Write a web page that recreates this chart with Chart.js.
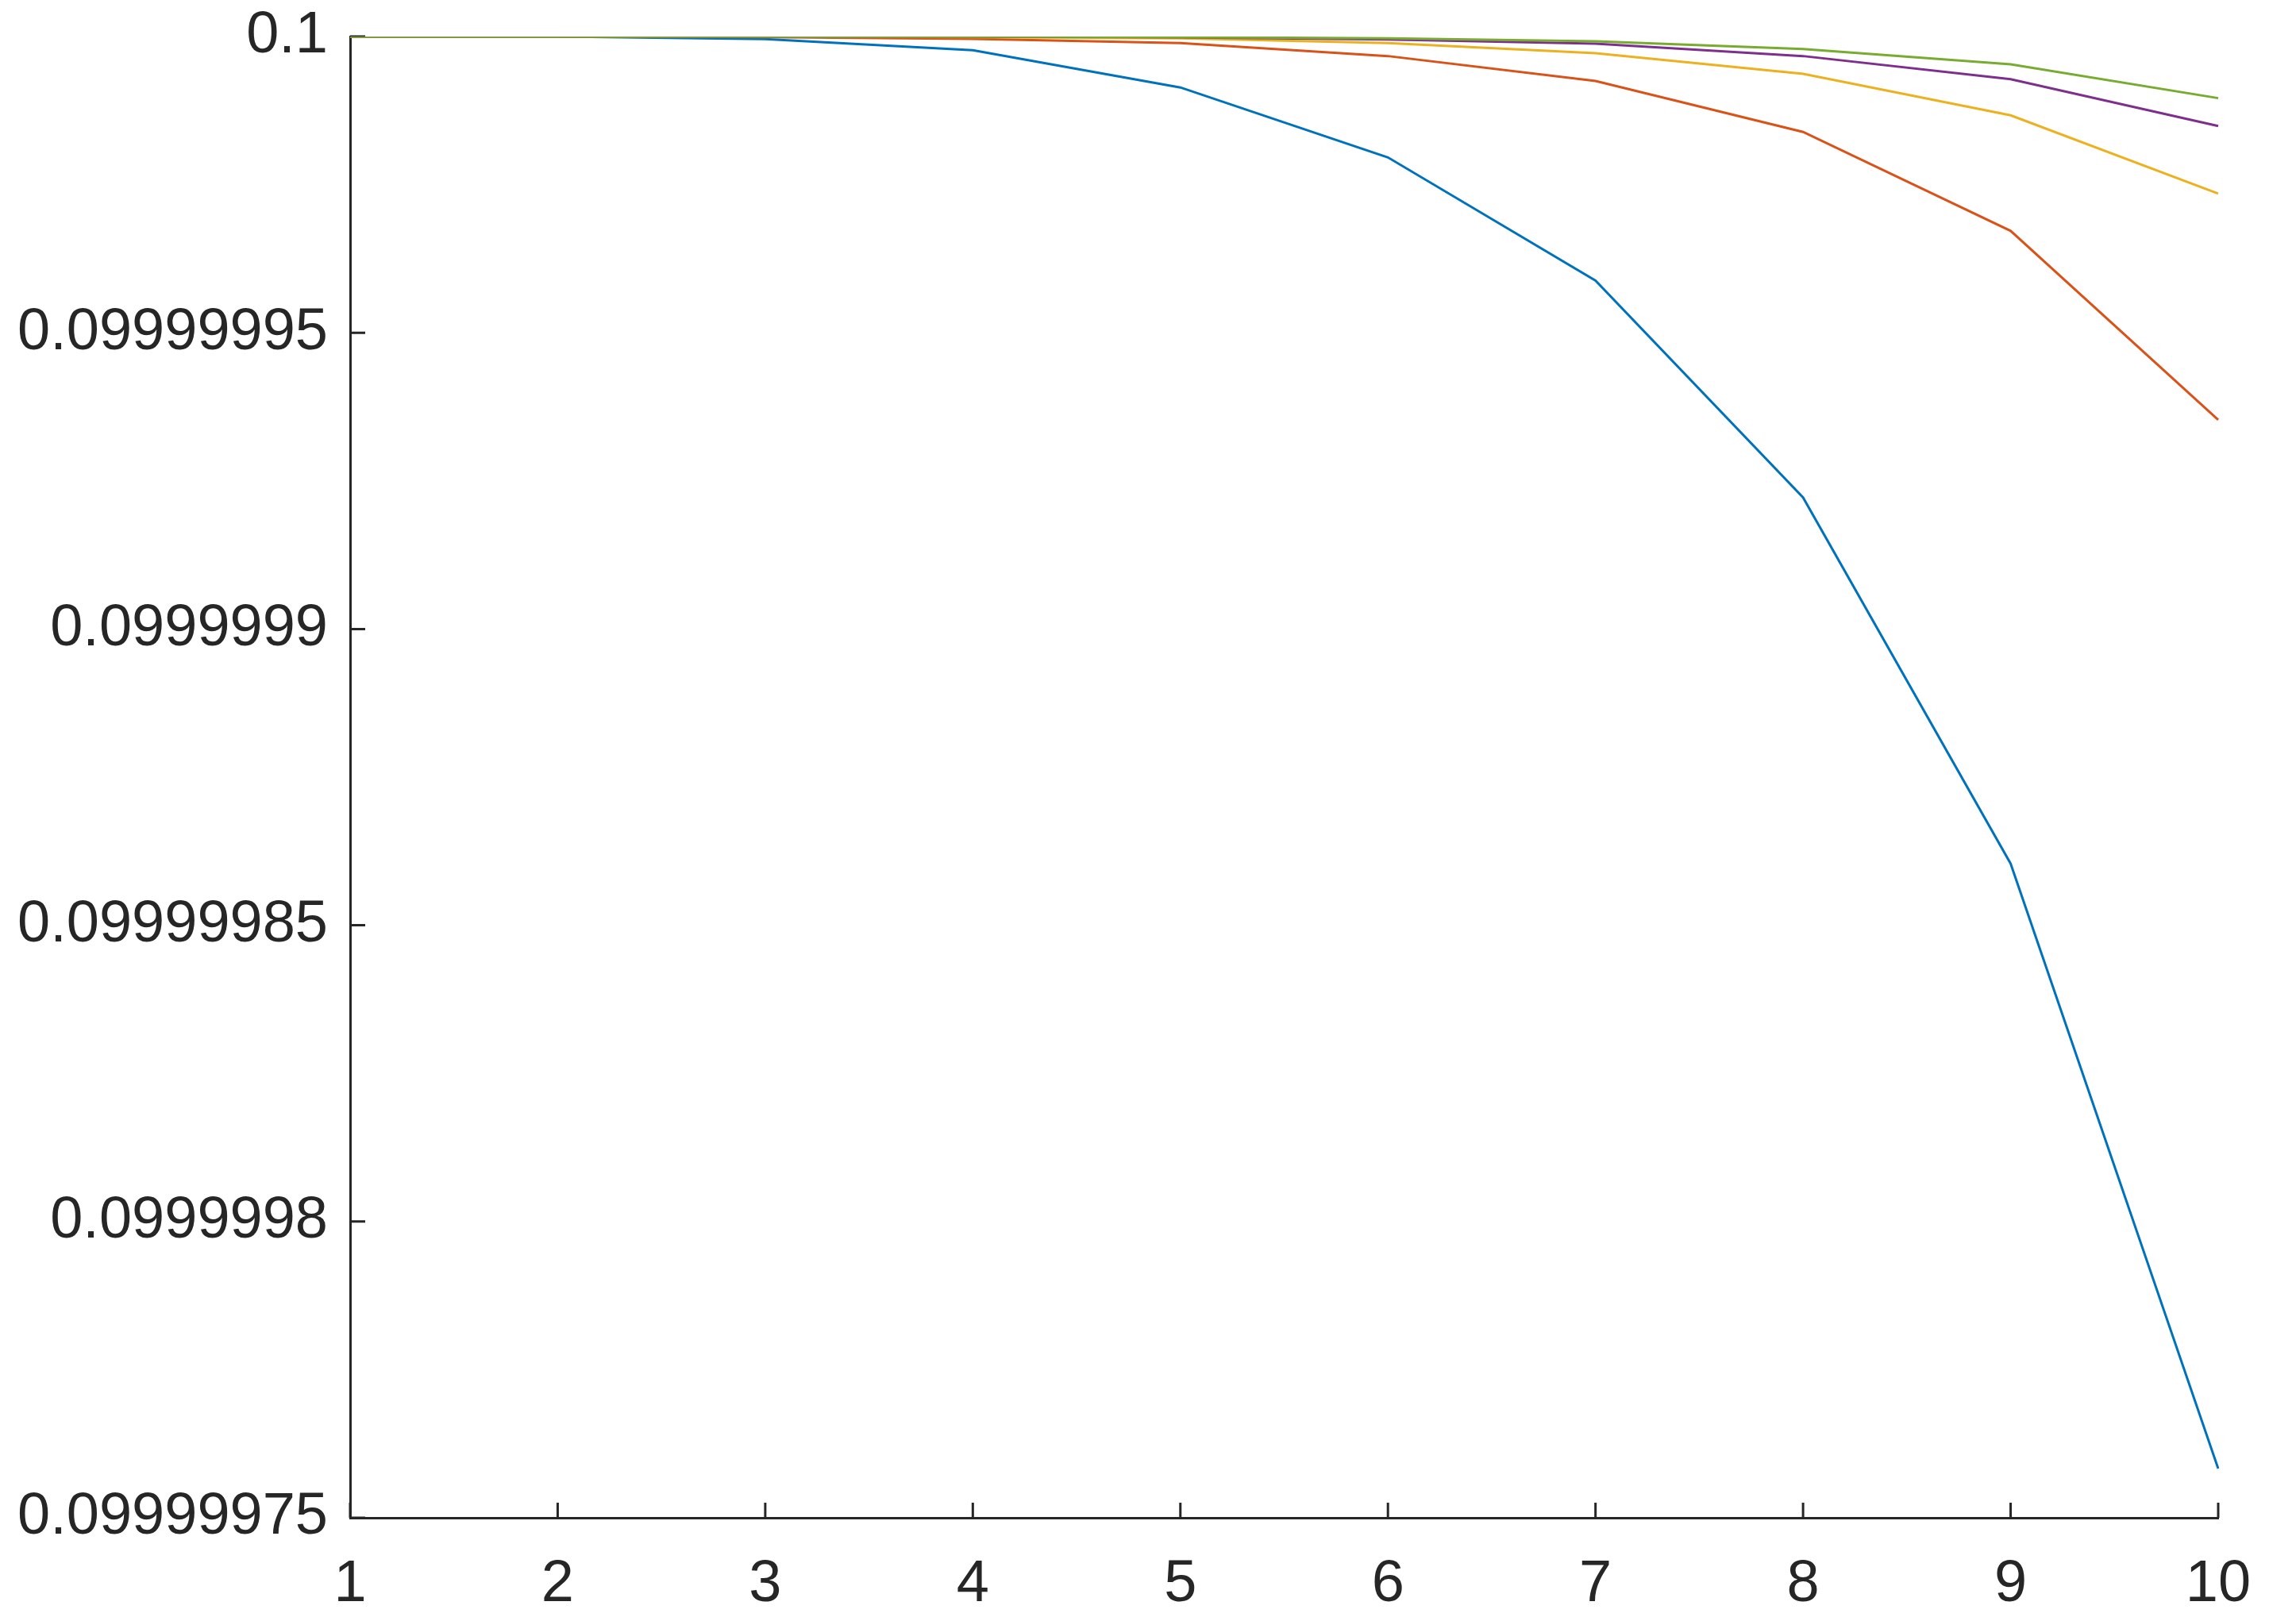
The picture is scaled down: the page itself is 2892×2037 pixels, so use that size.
<!DOCTYPE html>
<html>
<head>
<meta charset="utf-8">
<script src="https://cdn.jsdelivr.net/npm/chart.js@4"></script>
<style>
  body { margin: 0; background: #fff; }
  #wrap { width: 2892px; height: 2037px; }
</style>
</head>
<body>
<div id="wrap"><canvas id="myChart" width="2892" height="2037"></canvas></div>
<script>
// data
const steps = [1, 2, 3, 4, 5, 6, 7, 8, 9, 10];
const series1 = [0.1, 0.1, 0.09999999955, 0.0999999977, 0.0999999914, 0.0999999796, 0.0999999588, 0.0999999222, 0.0999998604, 0.0999997583];
const series2 = [0.1, 0.1, 0.0999999999, 0.0999999996, 0.0999999989, 0.0999999967, 0.0999999925, 0.0999999839, 0.0999999672, 0.0999999353];
const series3 = [0.1, 0.1, 0.1, 0.0999999999, 0.0999999997, 0.0999999989, 0.0999999972, 0.0999999937, 0.0999999867, 0.0999999735];
const series4 = [0.1, 0.1, 0.1, 0.1, 0.09999999985, 0.0999999995, 0.0999999988, 0.0999999967, 0.0999999928, 0.0999999849];
const series5 = [0.1, 0.1, 0.1, 0.1, 0.0999999999, 0.0999999997, 0.0999999992, 0.0999999979, 0.0999999953, 0.0999999896];
const yTicks = [0.09999975, 0.0999998, 0.09999985, 0.0999999, 0.09999995, 0.1];
const yTickLabels = ['0.09999975', '0.0999998', '0.09999985', '0.0999999', '0.09999995', '0.1'];

const axisColor = '#262626';

// matlab style ticks pointing into the plot
const innerTicks = {
    id: 'innerTicks',
    beforeDatasetsDraw(chart) {
        const {ctx, chartArea, scales: {x, y}} = chart;
        ctx.save();
        ctx.strokeStyle = axisColor;
        ctx.lineWidth = 3;
        ctx.beginPath();
        x.ticks.forEach((t, i) => {
            const px = x.getPixelForTick(i);
            ctx.moveTo(px, chartArea.bottom);
            ctx.lineTo(px, chartArea.bottom - 19);
        });
        y.ticks.forEach((t, i) => {
            const py = y.getPixelForTick(i);
            ctx.moveTo(chartArea.left, py);
            ctx.lineTo(chartArea.left + 19, py);
        });
        ctx.stroke();
        ctx.restore();
    }
};

// later series drawn on top, like plot() does
function line(data, color, order) {
    return {
        data: data,
        borderColor: color,
        backgroundColor: color,
        borderWidth: 3,
        pointRadius: 0,
        tension: 0,
        fill: false,
        order: order
    };
}

const ctx = document.getElementById('myChart').getContext('2d');
const myChart = new Chart(ctx, {
    type: 'line',
    data: {
        labels: steps,
        datasets: [
            line(series1, '#0072BD', 5),
            line(series2, '#D95319', 4),
            line(series3, '#EDB120', 3),
            line(series4, '#7E2F8E', 2),
            line(series5, '#77AC30', 1)
        ]
    },
    plugins: [innerTicks],
    options: {
        responsive: false,
        animation: false,
        layout: {
            padding: { top: 46, right: 98, left: 0, bottom: 0 }
        },
        scales: {
            x: {
                type: 'category',
                offset: false,
                grid: { display: true, drawOnChartArea: false, drawTicks: false },
                border: { display: true, color: axisColor, width: 3 },
                ticks: {
                    color: axisColor,
                    padding: 40,
                    maxRotation: 0,
                    autoSkip: false,
                    font: { family: '"Liberation Sans", Arial, sans-serif', size: 74 }
                },
                afterFit(scale) {
                    scale.height = 125;
                    scale.paddingLeft = 0;
                    scale.paddingRight = 0;
                }
            },
            y: {
                min: 0.09999975,
                max: 0.1,
                grid: { display: true, drawOnChartArea: false, drawTicks: false },
                border: { display: true, color: axisColor, width: 3 },
                afterBuildTicks(scale) {
                    scale.ticks = yTicks.map(v => ({ value: v }));
                },
                ticks: {
                    color: axisColor,
                    padding: 28,
                    font: { family: '"Liberation Sans", Arial, sans-serif', size: 74 },
                    callback: function(value, index) {
                        return yTickLabels[index];
                    }
                },
                afterFit(scale) {
                    scale.width = 441;
                    scale.paddingTop = 0;
                    scale.paddingBottom = 0;
                }
            }
        },
        plugins: {
            legend: { display: false },
            tooltip: { enabled: false },
            title: { display: false }
        }
    }
});
</script>
</body>
</html>
